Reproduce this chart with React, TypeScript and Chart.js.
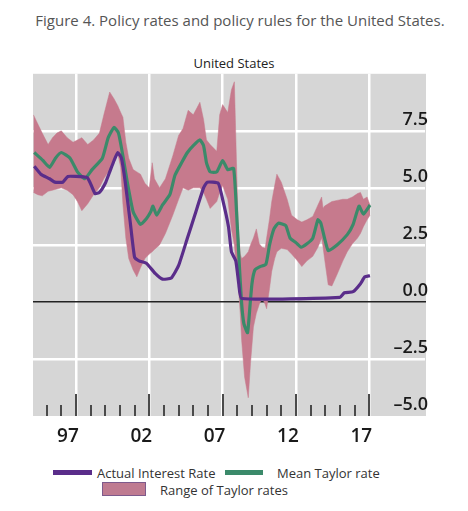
import React, { useEffect, useRef } from "react";
import { Chart, registerables } from "chart.js";

Chart.register(...registerables);

// Actual interest rate (purple)
const actualYears = [
  1994.15, 1994.6, 1995.2, 1995.55, 1996.1, 1996.45, 1997.0, 1997.75, 1997.95, 1998.3,
  1998.6, 1999.0, 1999.3, 1999.6, 1999.85, 2000.1, 2000.35, 2000.7, 2001.0, 2001.3,
  2001.8, 2002.4, 2002.9, 2003.5, 2004.0, 2004.6, 2005.1, 2005.7, 2005.95, 2006.7,
  2007.0, 2007.4, 2007.6, 2007.9, 2008.1, 2008.3, 2015.0, 2015.3, 2015.9, 2016.4,
  2016.7, 2017.05,
];
const actualRates = [
  5.95, 5.6, 5.4, 5.25, 5.25, 5.5, 5.5, 5.45, 5.25, 4.75,
  4.8, 5.2, 5.7, 6.2, 6.55, 6.3, 5.3, 3.5, 1.95, 1.8,
  1.7, 1.25, 1.0, 1.05, 1.6, 2.8, 3.8, 5.0, 5.25, 5.2,
  4.5, 3.3, 2.2, 1.8, 0.8, 0.15, 0.2, 0.4, 0.45, 0.8,
  1.1, 1.15,
];

// Mean Taylor rate (green)
const meanYears = [
  1994.15, 1994.75, 1995.2, 1995.6, 1996.0, 1996.6, 1997.1, 1997.6, 1998.1, 1998.8,
  1999.2, 1999.6, 1999.9, 2000.2, 2000.5, 2000.9, 2001.4, 2001.8, 2002.1, 2002.25,
  2002.5, 2002.9, 2003.4, 2003.75, 2004.2, 2004.6, 2005.0, 2005.45, 2005.7, 2005.9,
  2006.15, 2006.6, 2007.0, 2007.35, 2007.75, 2007.95, 2008.15, 2008.3, 2008.45, 2008.7,
  2008.85, 2009.0, 2009.2, 2009.55, 2009.95, 2010.2, 2010.5, 2010.8, 2011.3, 2011.6,
  2012.0, 2012.35, 2012.75, 2013.15, 2013.5, 2013.7, 2014.2, 2014.8, 2015.5, 2015.9,
  2016.3, 2016.6, 2017.05,
];
const meanRates = [
  6.55, 6.2, 5.9, 6.3, 6.55, 6.3, 5.7, 5.4, 5.8, 6.3,
  7.2, 7.65, 7.4, 6.4, 5.25, 3.95, 3.4, 3.65, 3.95, 4.2,
  3.8, 4.25, 4.7, 5.55, 6.1, 6.55, 6.85, 7.1, 6.85, 6.1,
  5.7, 5.7, 6.2, 5.8, 5.85, 3.95, 1.5, -0.1, -0.95, -1.35,
  -0.3, 0.8, 1.4, 1.55, 1.65, 2.5, 3.2, 3.45, 3.35, 2.8,
  2.6, 2.4, 2.55, 2.8, 3.6, 3.45, 2.25, 2.5, 2.95, 3.4,
  4.2, 3.85, 4.25,
];

// Range of Taylor rates (pink band)
const rangeYears = [
  1994.1, 1994.4, 1994.7, 1995.1, 1995.4, 1995.7, 1996.0, 1996.4, 1996.8, 1997.1,
  1997.4, 1997.8, 1998.2, 1998.6, 1998.9, 1999.3, 1999.6, 1999.85, 2000.05, 2000.2,
  2000.4, 2000.6, 2000.9, 2001.15, 2001.4, 2001.7, 2002.0, 2002.2, 2002.35, 2002.7,
  2003.1, 2003.6, 2004.0, 2004.3, 2004.65, 2005.0, 2005.45, 2005.7, 2005.9, 2006.15,
  2006.6, 2006.8, 2007.0, 2007.35, 2007.6, 2007.8, 2007.95, 2008.05, 2008.2, 2008.3,
  2008.5, 2008.75, 2008.9, 2009.1, 2009.3, 2009.5, 2009.7, 2009.9, 2010.0, 2010.2,
  2010.35, 2010.55, 2010.7, 2011.0, 2011.4, 2011.7, 2012.1, 2012.4, 2012.75, 2013.15,
  2013.5, 2013.75, 2013.85, 2013.95, 2014.2, 2014.45, 2014.8, 2015.2, 2015.5, 2015.85,
  2016.2, 2016.4, 2016.6, 2016.85, 2017.05,
];
const rangeHigh = [
  8.2, 7.8, 7.4, 6.9, 7.2, 7.4, 7.5, 7.2, 7.0, 7.1,
  7.2, 6.9, 7.1, 7.4, 8.2, 9.2, 8.9, 8.6, 8.3, 8.1,
  7.0, 6.3, 5.8, 5.7, 5.6, 5.2, 5.0, 6.1, 5.4, 5.0,
  5.4, 6.4, 7.3, 7.6, 8.4, 8.2, 8.75, 8.0, 7.1, 6.9,
  6.6, 8.2, 8.65, 8.3, 9.3, 9.65, 6.0, 3.5, 2.1, 1.9,
  2.0, 2.2, 2.5, 2.8, 3.2, 2.55, 2.4, 2.35, 2.8, 3.65,
  4.4, 5.1, 5.6, 5.25, 4.5, 3.8, 3.6, 3.5, 3.6, 3.75,
  4.25, 4.6, 4.1, 4.2, 4.3, 4.4, 4.45, 4.5, 4.5, 4.6,
  4.75, 4.8, 4.5, 4.6, 4.25,
];
const rangeLow = [
  4.8, 4.7, 4.65, 4.85, 4.9, 4.95, 5.0, 4.9, 4.7, 4.4,
  4.0, 4.3, 4.7, 5.0, 5.4, 5.8, 6.2, 6.5, 5.9, 4.3,
  2.8, 1.9, 1.4, 1.1, 1.5, 1.9, 2.1, 2.2, 2.3, 2.5,
  3.0, 3.8, 4.5, 5.0, 4.9, 5.0, 5.0, 4.8, 4.5, 4.1,
  4.4, 4.8, 5.1, 4.5, 3.2, 2.5, 1.5, 0.9, -0.5, -1.7,
  -3.3, -4.2, -2.7, -1.1, -0.5, -0.1, 0.17, -0.1, -0.3, 0.6,
  1.35, 1.9, 2.2, 2.35, 2.3, 2.1, 1.8, 1.55, 1.8, 2.0,
  2.4, 2.8, 2.4, 1.9, 0.75, 0.7, 1.2, 1.8, 2.2, 2.55,
  2.8, 3.0, 3.3, 3.6, 3.8,
];

const majorYears = [1997, 2002, 2007, 2012, 2017];
const xTickLabels = ["97", "02", "07", "12", "17"];
const yTickValues = [-5, -2.5, 0, 2.5, 5, 7.5];
const yTickLabels = ["\u20135.0", "\u20132.5", "0.0", "2.5", "5.0", "7.5"];

const PURPLE = "#5a2d8a";
const GREEN = "#3b8a6a";
const PINK = "rgb(198,122,141)";
const PANEL = "#d6d6d6";

const pts = (xs: number[], ys: number[]) => xs.map((x, i) => ({ x, y: ys[i] }));

// grey panel behind the plot
const panelPlugin = {
  id: "panelBg",
  beforeDraw(chart: any) {
    const { ctx, chartArea: a } = chart;
    ctx.save();
    ctx.globalCompositeOperation = "source-over";
    ctx.globalAlpha = 1;
    ctx.fillStyle = PANEL;
    ctx.fillRect(a.left, a.top, a.right - a.left + 1, a.bottom - a.top);
    ctx.restore();
  },
  // zero line and year tick marks rising from the bottom edge
  beforeDatasetsDraw(chart: any) {
    const { ctx, chartArea: a } = chart;
    const xs = chart.scales.x;
    const ys = chart.scales.y;
    ctx.save();
    ctx.fillStyle = "#222222";
    const pz = Math.round(ys.getPixelForValue(0));
    ctx.fillRect(a.left, pz - 1, a.right - a.left + 1, 1.5);
    ctx.fillStyle = "#4a4a4a";
    for (const t of xs.ticks) {
      const v = Math.round(t.value);
      if (v < 1995 || v > 2017) continue;
      const px = Math.round(xs.getPixelForValue(v));
      const len = majorYears.includes(v) ? 22 : 11;
      ctx.fillRect(px - 1, a.bottom - len, 2, len);
    }
    ctx.restore();
  },
};

function PolicyChart() {
  const ref = useRef<HTMLCanvasElement | null>(null);
  useEffect(() => {
    if (!ref.current) return;
    const chart = new Chart(ref.current, {
      type: "line",
      data: {
        datasets: [
          {
            label: "Actual Interest Rate",
            data: pts(actualYears, actualRates),
            borderColor: PURPLE,
            backgroundColor: PURPLE,
            borderWidth: 3.2,
            pointRadius: 0,
            tension: 0.15,
            fill: false,
          },
          {
            label: "Mean Taylor rate",
            data: pts(meanYears, meanRates),
            borderColor: GREEN,
            backgroundColor: GREEN,
            borderWidth: 3.2,
            pointRadius: 0,
            tension: 0.15,
            fill: false,
          },
          {
            label: "Range high",
            data: pts(rangeYears, rangeHigh),
            borderColor: PINK,
            borderWidth: 0.5,
            backgroundColor: PINK,
            pointRadius: 0,
            fill: "+1",
          },
          {
            label: "Range low",
            data: pts(rangeYears, rangeLow),
            borderColor: PINK,
            backgroundColor: PINK,
            borderWidth: 0.5,
            pointRadius: 0,
            fill: false,
          },
        ],
      },
      options: {
        animation: false,
        responsive: false,
        layout: { padding: { left: 33, right: 43, top: 12, bottom: 0 } },
        plugins: {
          legend: { display: false },
          tooltip: { enabled: false },
          title: { display: false },
        },
        scales: {
          x: {
            type: "linear",
            min: 1994.07,
            max: 2020.8,
            afterFit: (s: any) => {
              s.height = 44;
            },
            border: { display: false },
            grid: {
              drawTicks: false,
              lineWidth: 2.5,
              color: (c: any) =>
                c.tick && majorYears.includes(Math.round(c.tick.value)) ? "#ffffff" : "rgba(255,255,255,0)",
            },
            ticks: {
              stepSize: 1,
              includeBounds: false,
              autoSkip: false,
              maxRotation: 0,
              padding: 9,
              labelOffset: -8,
              color: "#1a1a1a",
              font: { family: "Open Sans", size: 19, weight: "600" },
              callback: (v: any) => {
                const i = majorYears.indexOf(Math.round(Number(v)));
                return i >= 0 ? xTickLabels[i] : "";
              },
            },
          },
          y: {
            type: "linear",
            position: "right",
            min: -5,
            max: 10,
            afterFit: (s: any) => {
              s.width = 0;
            },
            border: { display: false },
            grid: {
              drawTicks: false,
              lineWidth: 2.5,
              color: (c: any) => {
                const v = c.tick ? c.tick.value : NaN;
                if (v === 0 || v === -5 || v === 10) return "rgba(255,255,255,0)";
                return "#ffffff";
              },
            },
            ticks: {
              stepSize: 2.5,
              mirror: true,
              padding: 3,
              labelOffset: -11,
              color: "#1a1a1a",
              font: { family: "Open Sans", size: 18, weight: "600" },
              callback: (v: any) => {
                const i = yTickValues.indexOf(Number(v));
                return i >= 0 ? yTickLabels[i] : "";
              },
            },
          },
        },
      },
      plugins: [panelPlugin],
    });
    return () => chart.destroy();
  }, []);
  return <canvas ref={ref} width={468} height={400} style={{ display: "block" }} />;
}

export default function App() {
  const font = "'Open Sans', sans-serif";
  return (
    <div style={{ position: "absolute", left: 0, top: 0, width: 468, height: 511, fontFamily: font, background: "#fff", overflow: "hidden" }}>
      <div
        style={{
          position: "absolute",
          left: 0,
          top: 10,
          width: 468,
          paddingLeft: 12,
          boxSizing: "border-box",
          textAlign: "center",
          fontSize: 15,
          lineHeight: "20px",
          color: "#555",
          whiteSpace: "nowrap",
        }}
      >
        Figure 4. Policy rates and policy rules for the United States.
      </div>
      <div
        style={{
          position: "absolute",
          left: 0,
          top: 54,
          width: 468,
          textAlign: "center",
          fontSize: 13,
          lineHeight: "18px",
          color: "#222",
        }}
      >
        United States
      </div>
      <div style={{ position: "absolute", left: 0, top: 60, width: 468, height: 400 }}>
        <PolicyChart />
      </div>
      <div style={{ position: "absolute", left: 53, top: 470, width: 39, height: 5, background: PURPLE }} />
      <div style={{ position: "absolute", left: 97, top: 464, fontSize: 13, lineHeight: "18px", color: "#333", whiteSpace: "nowrap" }}>
        Actual Interest Rate
      </div>
      <div style={{ position: "absolute", left: 225, top: 470, width: 38, height: 5, background: GREEN }} />
      <div style={{ position: "absolute", left: 277, top: 464, fontSize: 13, lineHeight: "18px", color: "#333", whiteSpace: "nowrap" }}>
        Mean Taylor rate
      </div>
      <div
        style={{
          position: "absolute",
          left: 102,
          top: 482,
          width: 42,
          height: 12,
          background: "#bf7b91",
          border: "1px solid #7d5a8c",
        }}
      />
      <div style={{ position: "absolute", left: 160, top: 481, fontSize: 13, lineHeight: "18px", color: "#333", whiteSpace: "nowrap" }}>
        Range of Taylor rates
      </div>
    </div>
  );
}
